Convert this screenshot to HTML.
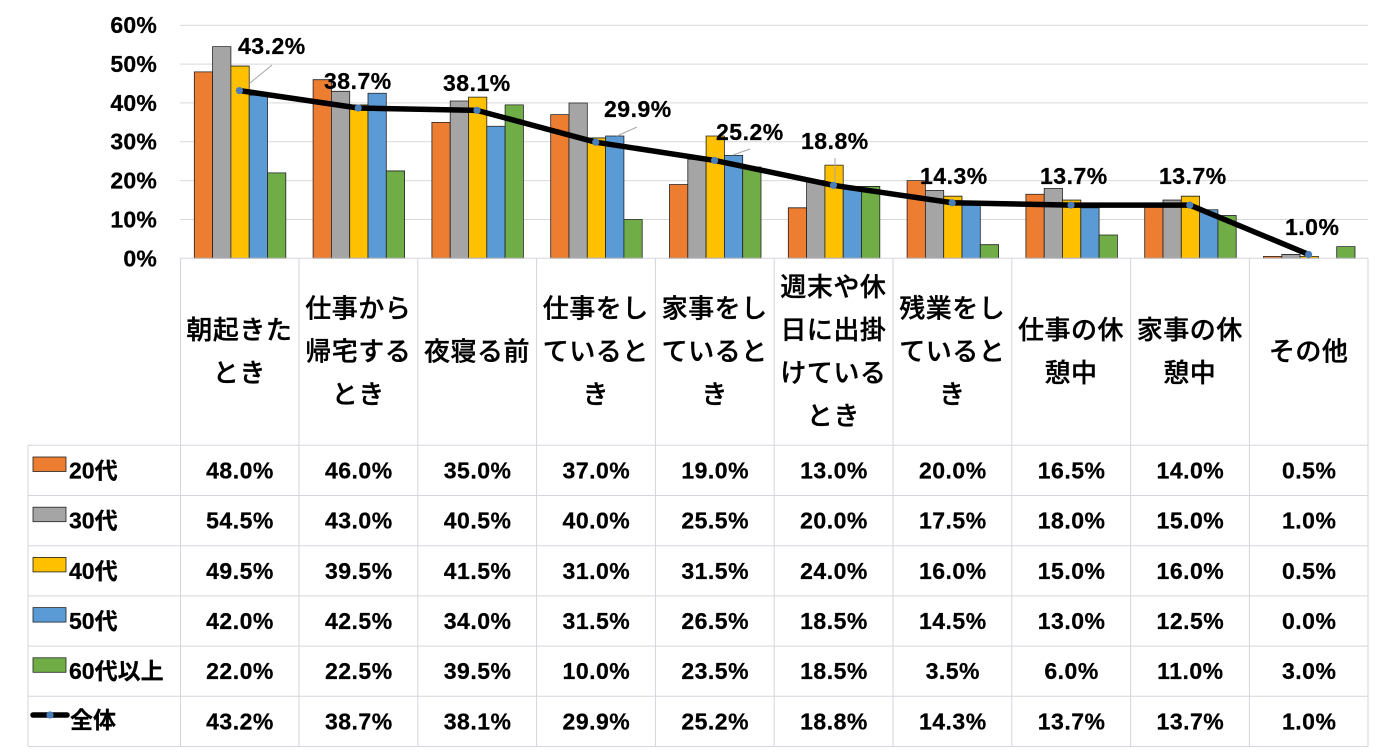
<!DOCTYPE html>
<html>
<head>
<meta charset="utf-8">
<style>
  html, body { margin: 0; padding: 0; background: #fff; }
  body { width: 1387px; height: 755px; overflow: hidden; }
  svg { display: block; }
  .ax { font-family: "Liberation Sans", sans-serif; font-weight: bold; font-size: 23px; letter-spacing: 0.2px; text-anchor: end; fill: #000; stroke: #000; stroke-width: 0.25; }
  .dl { font-family: "Liberation Sans", sans-serif; font-weight: bold; font-size: 23px; letter-spacing: 0.5px; fill: #000; stroke: #000; stroke-width: 0.25; }
  .v { font-family: "Liberation Sans", sans-serif; font-weight: bold; font-size: 23px; letter-spacing: 0.5px; text-anchor: middle; fill: #000; stroke: #000; stroke-width: 0.25; }
  .h { font-family: "Liberation Sans", "Noto Sans CJK JP", sans-serif; font-weight: 500; font-size: 26px; letter-spacing: 0.5px; text-anchor: middle; dominant-baseline: central; fill: #000; stroke: #000; stroke-width: 0.35; }
  .lg { font-family: "Liberation Sans", "Noto Sans CJK JP", sans-serif; font-weight: bold; font-size: 23px; fill: #000; stroke: #000; stroke-width: 0.25; }
  .b rect { stroke: #222; stroke-width: 0.8; vector-effect: non-scaling-stroke; }
</style>
</head>
<body>
<svg width="1387" height="755" viewBox="0 0 1387 755" xmlns="http://www.w3.org/2000/svg">
  <!-- gridlines -->
  <g stroke="#d9d9d9" stroke-width="1">
    <line x1="180" y1="25.3" x2="1368" y2="25.3"/>
    <line x1="180" y1="64.1" x2="1368" y2="64.1"/>
    <line x1="180" y1="102.9" x2="1368" y2="102.9"/>
    <line x1="180" y1="141.8" x2="1368" y2="141.8"/>
    <line x1="180" y1="180.6" x2="1368" y2="180.6"/>
    <line x1="180" y1="219.5" x2="1368" y2="219.5"/>
  </g>

  <!-- y axis labels -->
  <text class="ax" x="157" y="33">60%</text>
  <text class="ax" x="157" y="72">50%</text>
  <text class="ax" x="157" y="111">40%</text>
  <text class="ax" x="157" y="149.5">30%</text>
  <text class="ax" x="157" y="188.5">20%</text>
  <text class="ax" x="157" y="227.5">10%</text>
  <text class="ax" x="157" y="266.5">0%</text>

  <!-- bars -->
  <g class="b" transform="translate(0 258.3) scale(1 -3.8833)">
    <g fill="#ED7D31">
      <rect x="194.3" y="0" width="18.3" height="48"/>
      <rect x="313.1" y="0" width="18.3" height="46"/>
      <rect x="431.9" y="0" width="18.3" height="35"/>
      <rect x="550.7" y="0" width="18.3" height="37"/>
      <rect x="669.5" y="0" width="18.3" height="19"/>
      <rect x="788.3" y="0" width="18.3" height="13"/>
      <rect x="907.1" y="0" width="18.3" height="20"/>
      <rect x="1025.9" y="0" width="18.3" height="16.5"/>
      <rect x="1144.7" y="0" width="18.3" height="14"/>
      <rect x="1263.5" y="0" width="18.3" height="0.5"/>
    </g>
    <g fill="#A5A5A5">
      <rect x="212.6" y="0" width="18.3" height="54.5"/>
      <rect x="331.4" y="0" width="18.3" height="43"/>
      <rect x="450.2" y="0" width="18.3" height="40.5"/>
      <rect x="569.0" y="0" width="18.3" height="40"/>
      <rect x="687.8" y="0" width="18.3" height="25.5"/>
      <rect x="806.6" y="0" width="18.3" height="20"/>
      <rect x="925.4" y="0" width="18.3" height="17.5"/>
      <rect x="1044.2" y="0" width="18.3" height="18"/>
      <rect x="1163.0" y="0" width="18.3" height="15"/>
      <rect x="1281.8" y="0" width="18.3" height="1"/>
    </g>
    <g fill="#FFC000">
      <rect x="230.9" y="0" width="18.3" height="49.5"/>
      <rect x="349.7" y="0" width="18.3" height="39.5"/>
      <rect x="468.5" y="0" width="18.3" height="41.5"/>
      <rect x="587.3" y="0" width="18.3" height="31"/>
      <rect x="706.1" y="0" width="18.3" height="31.5"/>
      <rect x="824.9" y="0" width="18.3" height="24"/>
      <rect x="943.7" y="0" width="18.3" height="16"/>
      <rect x="1062.5" y="0" width="18.3" height="15"/>
      <rect x="1181.3" y="0" width="18.3" height="16"/>
      <rect x="1300.1" y="0" width="18.3" height="0.5"/>
    </g>
    <g fill="#5B9BD5">
      <rect x="249.2" y="0" width="18.3" height="42"/>
      <rect x="368.0" y="0" width="18.3" height="42.5"/>
      <rect x="486.8" y="0" width="18.3" height="34"/>
      <rect x="605.6" y="0" width="18.3" height="31.5"/>
      <rect x="724.4" y="0" width="18.3" height="26.5"/>
      <rect x="843.2" y="0" width="18.3" height="18.5"/>
      <rect x="962.0" y="0" width="18.3" height="14.5"/>
      <rect x="1080.8" y="0" width="18.3" height="13"/>
      <rect x="1199.6" y="0" width="18.3" height="12.5"/>
    </g>
    <g fill="#70AD47">
      <rect x="267.5" y="0" width="18.3" height="22"/>
      <rect x="386.3" y="0" width="18.3" height="22.5"/>
      <rect x="505.1" y="0" width="18.3" height="39.5"/>
      <rect x="623.9" y="0" width="18.3" height="10"/>
      <rect x="742.7" y="0" width="18.3" height="23.5"/>
      <rect x="861.5" y="0" width="18.3" height="18.5"/>
      <rect x="980.3" y="0" width="18.3" height="3.5"/>
      <rect x="1099.1" y="0" width="18.3" height="6"/>
      <rect x="1217.9" y="0" width="18.3" height="11"/>
      <rect x="1336.7" y="0" width="18.3" height="3"/>
    </g>
  </g>

  <!-- table lines -->
  <g stroke="#d5d5dd" stroke-width="1">
    <line x1="180" y1="258.3" x2="1368" y2="258.3"/>
    <line x1="28" y1="445.3" x2="1368" y2="445.3"/>
    <line x1="28" y1="495.5" x2="1368" y2="495.5"/>
    <line x1="28" y1="545.7" x2="1368" y2="545.7"/>
    <line x1="28" y1="595.9" x2="1368" y2="595.9"/>
    <line x1="28" y1="646.1" x2="1368" y2="646.1"/>
    <line x1="28" y1="696.3" x2="1368" y2="696.3"/>
    <line x1="28" y1="746.5" x2="1368" y2="746.5"/>
    <line x1="28" y1="445.3" x2="28" y2="746.5"/>
    <line x1="180.5" y1="258.3" x2="180.5" y2="746.5"/>
    <line x1="299" y1="258.3" x2="299" y2="746.5"/>
    <line x1="417.8" y1="258.3" x2="417.8" y2="746.5"/>
    <line x1="536.6" y1="258.3" x2="536.6" y2="746.5"/>
    <line x1="655.4" y1="258.3" x2="655.4" y2="746.5"/>
    <line x1="774.2" y1="258.3" x2="774.2" y2="746.5"/>
    <line x1="893" y1="258.3" x2="893" y2="746.5"/>
    <line x1="1011.8" y1="258.3" x2="1011.8" y2="746.5"/>
    <line x1="1130.6" y1="258.3" x2="1130.6" y2="746.5"/>
    <line x1="1249.4" y1="258.3" x2="1249.4" y2="746.5"/>
    <line x1="1368" y1="258.3" x2="1368" y2="746.5"/>
  </g>

  <!-- leader lines -->
  <g stroke="#a6a6a6" stroke-width="1" fill="none">
    <line x1="272" y1="65" x2="250" y2="83"/>
    <line x1="637" y1="127" x2="617" y2="136"/>
    <line x1="750" y1="149" x2="733" y2="155"/>
    <line x1="835" y1="158" x2="835" y2="182"/>
  </g>

  <!-- total line -->
  <polyline fill="none" stroke="#000" stroke-width="5.5" stroke-linejoin="round" stroke-linecap="round"
    points="239.4,90.54 358.2,108.02 477,110.35 595.8,142.19 714.6,160.44 833.4,185.29 952.2,202.77 1071,205.1 1189.8,205.1 1308.6,254.42"/>
  <g fill="#4A7EBB">
    <circle cx="239.4" cy="90.54" r="3.6"/>
    <circle cx="358.2" cy="108.02" r="3.6"/>
    <circle cx="477" cy="110.35" r="3.6"/>
    <circle cx="595.8" cy="142.19" r="3.6"/>
    <circle cx="714.6" cy="160.44" r="3.6"/>
    <circle cx="833.4" cy="185.29" r="3.6"/>
    <circle cx="952.2" cy="202.77" r="3.6"/>
    <circle cx="1071" cy="205.1" r="3.6"/>
    <circle cx="1189.8" cy="205.1" r="3.6"/>
    <circle cx="1308.6" cy="254.42" r="3.6"/>
  </g>

  <!-- data labels -->
  <text class="dl" x="238" y="54">43.2%</text>
  <text class="dl" x="324" y="89">38.7%</text>
  <text class="dl" x="443" y="91">38.1%</text>
  <text class="dl" x="604" y="117">29.9%</text>
  <text class="dl" x="716" y="140">25.2%</text>
  <text class="dl" x="801" y="149">18.8%</text>
  <text class="dl" x="920" y="184">14.3%</text>
  <text class="dl" x="1040" y="184">13.7%</text>
  <text class="dl" x="1159" y="184">13.7%</text>
  <text class="dl" x="1285" y="235">1.0%</text>

  <!-- header category labels -->
  <text class="h" x="239.4" y="330">朝起きた</text>
  <text class="h" x="239.4" y="373">とき</text>

  <text class="h" x="358.2" y="308.5">仕事から</text>
  <text class="h" x="358.2" y="351.5">帰宅する</text>
  <text class="h" x="358.2" y="394.5">とき</text>

  <text class="h" x="477" y="351.5">夜寝る前</text>

  <text class="h" x="595.8" y="308.5">仕事をし</text>
  <text class="h" x="595.8" y="351.5">ていると</text>
  <text class="h" x="595.8" y="394.5">き</text>

  <text class="h" x="714.6" y="308.5">家事をし</text>
  <text class="h" x="714.6" y="351.5">ていると</text>
  <text class="h" x="714.6" y="394.5">き</text>

  <text class="h" x="833.4" y="287">週末や休</text>
  <text class="h" x="833.4" y="330">日に出掛</text>
  <text class="h" x="833.4" y="373">けている</text>
  <text class="h" x="833.4" y="416">とき</text>

  <text class="h" x="952.2" y="308.5">残業をし</text>
  <text class="h" x="952.2" y="351.5">ていると</text>
  <text class="h" x="952.2" y="394.5">き</text>

  <text class="h" x="1071" y="330">仕事の休</text>
  <text class="h" x="1071" y="373">憩中</text>

  <text class="h" x="1189.8" y="330">家事の休</text>
  <text class="h" x="1189.8" y="373">憩中</text>

  <text class="h" x="1308.6" y="351.5">その他</text>

  <!-- legend -->
  <rect x="33" y="457" width="33" height="14.5" fill="#ED7D31" stroke="#222" stroke-width="0.8"/>
  <rect x="33" y="507.2" width="33" height="14.5" fill="#A5A5A5" stroke="#222" stroke-width="0.8"/>
  <rect x="33" y="557.4" width="33" height="14.5" fill="#FFC000" stroke="#222" stroke-width="0.8"/>
  <rect x="33" y="607.6" width="33" height="14.5" fill="#5B9BD5" stroke="#222" stroke-width="0.8"/>
  <rect x="33" y="657.8" width="33" height="14.5" fill="#70AD47" stroke="#222" stroke-width="0.8"/>
  <line x1="33" y1="715" x2="67" y2="715" stroke="#000" stroke-width="5.5" stroke-linecap="round"/>
  <circle cx="50" cy="715" r="3.6" fill="#4A7EBB"/>

  <text class="lg" x="69" y="478.4">20代</text>
  <text class="lg" x="69" y="528.6">30代</text>
  <text class="lg" x="69" y="578.8">40代</text>
  <text class="lg" x="69" y="629">50代</text>
  <text class="lg" x="69" y="679.2">60代以上</text>
  <text class="lg" x="70" y="728">全体</text>

  <!-- table values -->
  <g>
    <text class="v" x="240" y="478.4">48.0%</text>
    <text class="v" x="358.8" y="478.4">46.0%</text>
    <text class="v" x="477.6" y="478.4">35.0%</text>
    <text class="v" x="596.4" y="478.4">37.0%</text>
    <text class="v" x="715.2" y="478.4">19.0%</text>
    <text class="v" x="834" y="478.4">13.0%</text>
    <text class="v" x="952.8" y="478.4">20.0%</text>
    <text class="v" x="1071.6" y="478.4">16.5%</text>
    <text class="v" x="1190.4" y="478.4">14.0%</text>
    <text class="v" x="1309.2" y="478.4">0.5%</text>

    <text class="v" x="240" y="528.6">54.5%</text>
    <text class="v" x="358.8" y="528.6">43.0%</text>
    <text class="v" x="477.6" y="528.6">40.5%</text>
    <text class="v" x="596.4" y="528.6">40.0%</text>
    <text class="v" x="715.2" y="528.6">25.5%</text>
    <text class="v" x="834" y="528.6">20.0%</text>
    <text class="v" x="952.8" y="528.6">17.5%</text>
    <text class="v" x="1071.6" y="528.6">18.0%</text>
    <text class="v" x="1190.4" y="528.6">15.0%</text>
    <text class="v" x="1309.2" y="528.6">1.0%</text>

    <text class="v" x="240" y="578.8">49.5%</text>
    <text class="v" x="358.8" y="578.8">39.5%</text>
    <text class="v" x="477.6" y="578.8">41.5%</text>
    <text class="v" x="596.4" y="578.8">31.0%</text>
    <text class="v" x="715.2" y="578.8">31.5%</text>
    <text class="v" x="834" y="578.8">24.0%</text>
    <text class="v" x="952.8" y="578.8">16.0%</text>
    <text class="v" x="1071.6" y="578.8">15.0%</text>
    <text class="v" x="1190.4" y="578.8">16.0%</text>
    <text class="v" x="1309.2" y="578.8">0.5%</text>

    <text class="v" x="240" y="629">42.0%</text>
    <text class="v" x="358.8" y="629">42.5%</text>
    <text class="v" x="477.6" y="629">34.0%</text>
    <text class="v" x="596.4" y="629">31.5%</text>
    <text class="v" x="715.2" y="629">26.5%</text>
    <text class="v" x="834" y="629">18.5%</text>
    <text class="v" x="952.8" y="629">14.5%</text>
    <text class="v" x="1071.6" y="629">13.0%</text>
    <text class="v" x="1190.4" y="629">12.5%</text>
    <text class="v" x="1309.2" y="629">0.0%</text>

    <text class="v" x="240" y="679.2">22.0%</text>
    <text class="v" x="358.8" y="679.2">22.5%</text>
    <text class="v" x="477.6" y="679.2">39.5%</text>
    <text class="v" x="596.4" y="679.2">10.0%</text>
    <text class="v" x="715.2" y="679.2">23.5%</text>
    <text class="v" x="834" y="679.2">18.5%</text>
    <text class="v" x="952.8" y="679.2">3.5%</text>
    <text class="v" x="1071.6" y="679.2">6.0%</text>
    <text class="v" x="1190.4" y="679.2">11.0%</text>
    <text class="v" x="1309.2" y="679.2">3.0%</text>

    <text class="v" x="240" y="729.4">43.2%</text>
    <text class="v" x="358.8" y="729.4">38.7%</text>
    <text class="v" x="477.6" y="729.4">38.1%</text>
    <text class="v" x="596.4" y="729.4">29.9%</text>
    <text class="v" x="715.2" y="729.4">25.2%</text>
    <text class="v" x="834" y="729.4">18.8%</text>
    <text class="v" x="952.8" y="729.4">14.3%</text>
    <text class="v" x="1071.6" y="729.4">13.7%</text>
    <text class="v" x="1190.4" y="729.4">13.7%</text>
    <text class="v" x="1309.2" y="729.4">1.0%</text>
  </g>
</svg>
</body>
</html>
